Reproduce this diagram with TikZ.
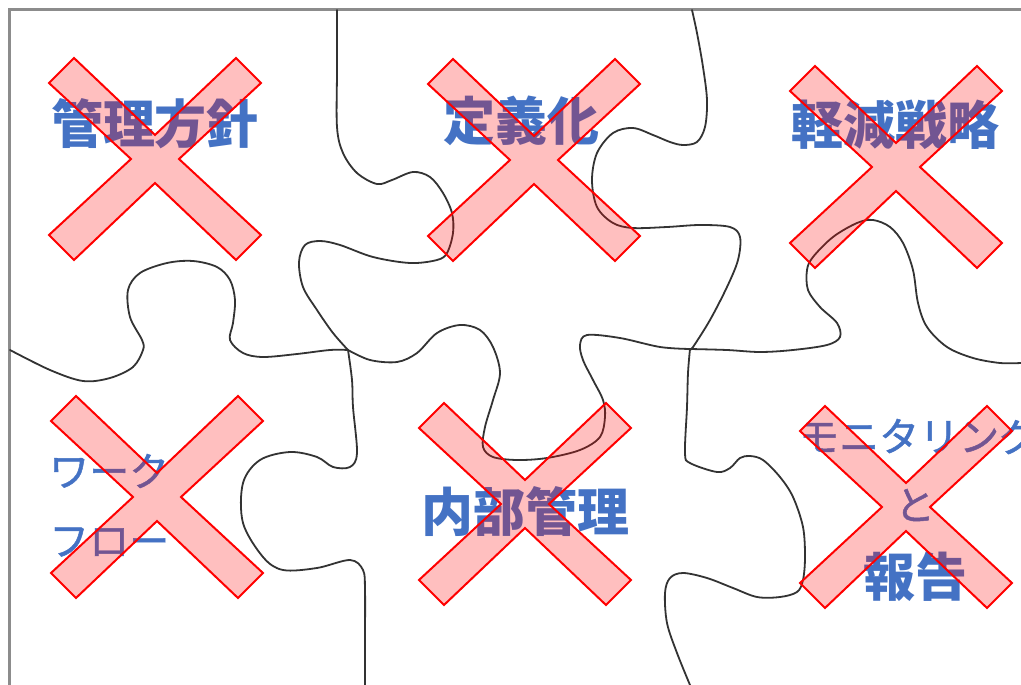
\documentclass[tikz,border=0pt]{standalone}
\usepackage{fontspec}
\newfontfamily\jp{Noto Sans CJK JP}
\newfontfamily\jpm[FakeBold=1.2]{Noto Sans CJK JP}
\definecolor{lblblue}{HTML}{4472C4}
\definecolor{edge}{HTML}{333333}
\definecolor{frame}{HTML}{8C8C8C}
\tikzset{
  cut/.style={draw=edge, line width=1.8pt, line join=round, line cap=round},
  lblb/.style={text=lblblue, inner sep=0pt, font=\jp\bfseries\fontsize{52}{60}\selectfont},
  lblr/.style={text=lblblue, inner sep=0pt, font=\jpm\fontsize{40}{48}\selectfont},
  xm/.style={draw=red, line width=2pt, fill=red, fill opacity=0.25, line join=miter},
  crossmark/.pic={
    \draw[xm] (-106,-76) -- (-81,-101) -- (0,-24) -- (81,-101) -- (106,-76) -- (24,0)
      -- (106,76) -- (81,101) -- (0,24) -- (-81,101) -- (-106,76) -- (-24,0) -- cycle;
  }
}
\begin{document}
\begin{tikzpicture}[x=1pt,y=-1pt]
\useasboundingbox (0,0) rectangle (1021,685);
\fill[white] (0,0) rectangle (1021,685);
% frame
\draw[frame, line width=2.5pt] (9.5,685) -- (9.5,9.5) -- (1021,9.5);
% puzzle cuts
\draw[cut] plot[smooth, tension=0.55] coordinates {(337,10) (337,70) (337,127) (343,153) (357,173) (377,184) (392,180) (413,172) (430,177) (443,193) (452,213) (453,233) (447,253) (437,260) (410,263) (373,257) (340,245) (320,241) (305,245) (299,262) (303,287) (317,310) (333,333) (348,350)};
\draw[cut] plot[smooth, tension=0.55] coordinates {(10,350) (50,370) (83,381) (110,378) (133,367) (143,350) (142,340) (130,317) (128,290) (140,273) (167,263) (193,261) (217,267) (230,280) (235,300) (233,323) (230,340) (243,353) (263,357) (297,354) (330,350) (348,350)};
\draw[cut] plot[smooth, tension=0.55] coordinates {(348,350) (352,380) (353,407) (357,453) (350,467) (333,467) (317,457) (290,452) (260,460) (243,483) (243,523) (263,557) (283,570) (317,568) (350,560) (363,570) (365,590) (365,640) (365,685)};
\draw[cut] plot[smooth, tension=0.55] coordinates {(348,350) (370,360) (397,362) (417,353) (437,333) (460,325) (480,330) (493,347) (500,373) (493,400) (485,427) (483,447) (493,457) (517,460) (547,458) (580,450) (600,437) (605,417) (603,400) (593,380) (583,360) (580,345) (587,335) (620,338) (660,347) (690,349)};
\draw[cut] plot[smooth, tension=0.55] coordinates {(692,10) (697,33) (703,67) (707,100) (705,127) (697,142) (683,145) (670,142) (653,135) (633,128) (613,133) (597,153) (592,180) (597,207) (613,223) (633,228) (667,227) (700,225) (730,227) (740,237) (738,260) (727,287) (710,320) (693,347) (690,349)};
\draw[cut] plot[smooth, tension=0.55] coordinates {(690,349) (727,350) (760,352) (793,350) (827,345) (840,337) (837,323) (820,307) (808,290) (807,270) (813,257) (833,237) (857,223) (873,220) (890,227) (903,243) (913,270) (918,303) (927,327) (947,347) (973,358) (1000,363) (1021,363)};
\draw[cut] plot[smooth, tension=0.55] coordinates {(690,349) (688,373) (687,407) (685,453) (690,463) (717,472) (730,468) (740,458) (750,456) (763,460) (780,477) (793,497) (803,527) (805,557) (803,580) (797,592) (780,597) (757,597) (733,588) (707,578) (683,573) (670,578) (665,593) (667,623) (677,653) (690,685)};
% labels
\node[lblb] (t1) at (155,124) {管理方針};
\node[lblb] (t2) at (521,121) {定義化};
\node[lblb] (t3) at (895,125) {軽減戦略};
\node[lblb] (t4) at (525,512) {内部管理};
\node[lblr, anchor=west] (t5a) at (49,471) {ワーク};
\node[lblr, anchor=west] (t5b) at (49,542) {フロー};
\node[lblr, anchor=west] (t6a) at (799,436) {モニタリング};
\node[lblr] (t6b) at (915,505) {と};
\node[lblb] (t6c) at (915,577) {報告};
% cross marks
\pic at (155,159) {crossmark};
\pic at (534,160) {crossmark};
\pic at (896,167) {crossmark};
\pic at (157,497) {crossmark};
\pic at (525,504) {crossmark};
\pic at (906,507) {crossmark};
\end{tikzpicture}
\end{document}
